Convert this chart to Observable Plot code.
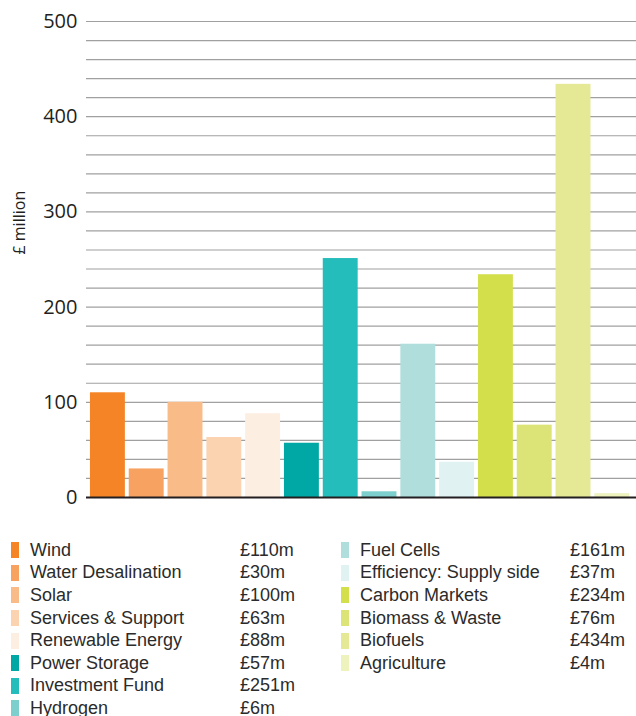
<!DOCTYPE html>
<html>
<head>
<meta charset="utf-8">
<script src="https://cdn.jsdelivr.net/npm/d3@7"></script>
<script src="https://cdn.jsdelivr.net/npm/@observablehq/plot@0.6"></script>
<style>
  html, body { margin: 0; padding: 0; background: #fff; }
  #chart svg { display: block; }
  #legend { display: flex; margin-top: 9px; font-family: "Liberation Sans", Arial, sans-serif; font-size: 18px; color: #2b2b2b; }
  .col { flex: none; }
  .col.left { width: 330px; }
  .col.right { width: 306px; }
  .row { display: flex; align-items: center; height: 22.6px; white-space: nowrap; }
  .sw { width: 8px; height: 16px; margin-left: 11px; margin-right: 11px; flex: none; }
  .name { width: 210px; flex: none; }
</style>
</head>
<body>
<div id="chart"></div>
<div id="legend"></div>
<script>
const categories = ["Wind", "Water Desalination", "Solar", "Services & Support", "Renewable Energy", "Power Storage", "Investment Fund", "Hydrogen", "Fuel Cells", "Efficiency: Supply side", "Carbon Markets", "Biomass & Waste", "Biofuels", "Agriculture"];
const values = [110, 30, 100, 63, 88, 57, 251, 6, 161, 37, 234, 76, 434, 4];
const colors = ["#f58426", "#f8a262", "#f9bb87", "#fcd3b1", "#fdeee2", "#00a8a5", "#24bdbb", "#7ccfcd", "#afdedd", "#e0f2f2", "#d4df4c", "#dde477", "#e5e996", "#eef2bd"];
const valueLabels = ["£110m", "£30m", "£100m", "£63m", "£88m", "£57m", "£251m", "£6m", "£161m", "£37m", "£234m", "£76m", "£434m", "£4m"];
const majorTicks = [0, 100, 200, 300, 400, 500];
const gridTicks = d3.range(20, 501, 20);
const yLabel = "£ million";

const data = categories.map((c, i) => ({category: c, value: values[i], color: colors[i]}));

const chart = Plot.plot({
  width: 636,
  height: 530,
  marginLeft: 86,
  marginRight: 0,
  marginTop: 21,
  marginBottom: 33,
  style: {fontFamily: "'Open Sans', sans-serif", color: "#231f20", background: "#fff"},
  x: {domain: categories, padding: 0.1, paddingOuter: 0.1375, align: 0.37, round: false, axis: null},
  y: {domain: [0, 500]},
  marks: [
    Plot.ruleY(gridTicks, {stroke: "#a0a0a0", strokeWidth: 1.2}),
    Plot.barY(data, {x: "category", y: "value", fill: "color"}),
    Plot.ruleY([0], {stroke: "#231f20", strokeWidth: 2}),
    Plot.axisY({ticks: majorTicks, tickSize: 0, tickPadding: 9, fontSize: 20, label: null, tickFormat: d => String(d)}),
    Plot.text([yLabel], {frameAnchor: "left", rotate: -90, dx: -67, dy: -5, fontSize: 16, fill: "#231f20"})
  ]
});
document.getElementById("chart").appendChild(chart);

const legend = document.getElementById("legend");
const split = 8;
[[0, split, "left"], [split, categories.length, "right"]].forEach(([a, b, cls]) => {
  const col = document.createElement("div");
  col.className = "col " + cls;
  for (let i = a; i < b; i++) {
    const row = document.createElement("div");
    row.className = "row";
    const sw = document.createElement("span");
    sw.className = "sw";
    sw.style.background = colors[i];
    const nm = document.createElement("span");
    nm.className = "name";
    nm.textContent = categories[i];
    const v = document.createElement("span");
    v.textContent = valueLabels[i];
    row.append(sw, nm, v);
    col.appendChild(row);
  }
  legend.appendChild(col);
});
</script>
</body>
</html>
